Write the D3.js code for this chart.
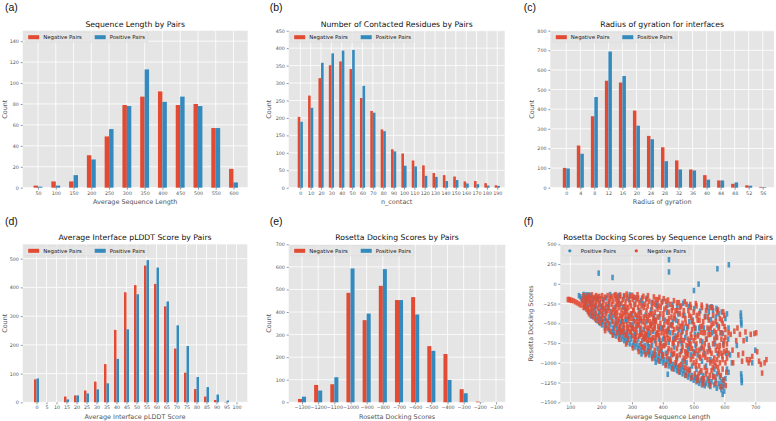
<!DOCTYPE html>
<html><head><meta charset="utf-8">
<script src="https://cdn.jsdelivr.net/npm/d3@7/dist/d3.min.js"></script>
<style>body{margin:0;background:#fff}svg{display:block}text{font-family:"DejaVu Sans",sans-serif}</style>
</head><body><svg id="c" width="776" height="421"></svg>
<script>
// ---------- DATA ----------
const seqLenCats = [50,100,150,200,250,300,350,400,450,500,550,600];
const seqLenNeg  = [2,6,6,31,49,79,87,92,79,80,57,18];
const seqLenPos  = [1,2,12,27,56,78,113,82,87,78,57,5];
const seqLenYTicks = [0,20,40,60,80,100,120,140];

const contactCats = [0,10,20,30,40,50,60,70,80,90,100,110,120,130,140,150,160,170,180,190];
const contactNeg  = [203,264,314,351,362,340,257,220,167,110,98,78,64,42,36,32,18,19,13,7];
const contactPos  = [189,229,358,385,393,395,292,215,162,104,63,61,34,31,19,22,12,10,6,5];
const contactYTicks = [0,50,100,150,200,250,300,350,400,450];

const rgCats = [0,4,8,12,16,20,24,28,32,36,40,44,48,52,56];
const rgNeg  = [101,215,364,545,536,393,264,206,139,93,64,37,20,12,4];
const rgPos  = [98,173,462,694,569,316,247,135,93,88,41,37,27,10,3];
const rgYTicks = [0,100,200,300,400,500,600,700,800];

const plddtCats = [0,5,10,15,20,25,30,35,40,45,50,55,60,65,70,75,80,85,90,95,100];
const plddtNeg  = [80,0,0,20,24,41,72,133,252,383,408,476,412,334,187,103,46,20,8,1,0];
const plddtPos  = [83,0,0,10,24,31,45,66,151,254,376,495,469,351,268,196,88,53,27,6,0];
const plddtYTicks = [0,100,200,300,400,500];

const dockCats = [-1300,-1200,-1100,-1000,-900,-800,-700,-600,-500,-400,-300,-200,-100];
const dockNeg  = [15,77,80,485,364,516,453,466,249,214,58,3,0];
const dockPos  = [25,52,111,593,393,590,453,389,228,99,40,1,0];
const dockYTicks = [0,100,200,300,400,500,600,700];

const scatXTicks = [100,200,300,400,500,600,700];
const scatYTicks = [-1500,-1250,-1000,-750,-500,-250,0,250,500];

// Positive pairs: [average sequence length, Rosetta docking score]
const scatPos = [
[128,-150],[133,-165],[137,-190],
[143,-135],[143,-210],[147,-160],[147,-300],[152,-140],[152,-270],[157,-200],[157,-330],[161,-260],[161,-360],[166,-150],[166,-400],[170,-230],[170,-350],[175,-420],[175,-180],[180,-320],[180,-390],[184,-460],[184,-280],[189,-410],[189,-170],[194,-360],[194,-490],[198,-440],[198,-300],[203,-520],[203,-380],[207,-480],[207,-200],[212,-440],[212,-560],[216,-530],[216,-180],[221,-480],[221,-290],[225,-580],[225,-420],[230,-520],[230,-350],[234,-610],[234,-470],[239,-560],[239,-640],
[243,-620],[243,-300],[248,-660],[248,-450],[252,-580],[252,-520],[257,-680],[257,-610],[261,-640],[261,-260],[266,-700],[266,-480],[270,-660],[270,-560],[275,-720],[275,-620],[279,-690],[279,-340],[284,-740],[284,-600],[288,-660],[288,-420],[293,-760],[293,-520],[297,-700],[297,-640],[302,-780],[302,-560],[306,-740],[306,-460],[311,-800],[311,-620],[315,-760],[315,-540],[320,-820],[320,-700],[324,-780],[324,-340],[329,-840],[329,-640],[333,-800],[333,-720],[338,-860],[338,-580],[342,-780],[342,-680],[347,-880],[347,-480],[351,-840],[351,-760],[356,-900],[356,-660],[360,-860],[360,-520],[365,-920],[365,-780],[369,-880],[369,-600],[374,-940],[374,-720],[378,-900],[378,-640],[383,-960],[383,-820],[387,-920],[387,-700],[392,-980],[392,-560],[396,-940],[396,-860],
[401,-1000],[401,-700],[405,-960],[405,-780],[410,-1020],[410,-880],[414,-980],[414,-360],[419,-1040],[419,-740],[423,-1000],[423,-620],[428,-1060],[428,-900],[432,-1020],[432,-480],[437,-1080],[437,-800],[441,-1040],[441,-660],[446,-1100],[446,-940],[450,-1060],[450,-380],[455,-1120],[455,-720],[459,-1080],[459,-860],[464,-1140],[464,-980],[468,-1100],[468,-560],[473,-1160],[473,-680],[477,-1120],[477,-1000],[482,-1180],[482,-840],[486,-1140],[486,-480],[491,-1200],[491,-900],[495,-1160],[495,-1040],[500,-1220],[500,-860],
[504,-1180],[504,-640],[509,-1240],[509,-1080],[513,-1200],[513,-900],[518,-1260],[518,-560],[522,-1220],[522,-1120],[527,-1280],[527,-980],[531,-1240],[531,-1160],[536,-1290],[536,-880],[540,-1260],[540,-1040],[545,-1200],[545,-300],[549,-1280],[549,-360],[554,-1300],[554,-960],[558,-1240],[558,-290],[563,-1160],[563,-340],[567,-1280],[567,-1080],[572,-1220],[572,-420],[576,-1140],[576,-520],[581,-1260],[581,-380],[585,-1180],[585,-1300],[590,-1340],[590,-1240],[594,-1400],[594,-1300],[599,-1360],[599,-1280],[603,-1200],[603,-440],[608,-1080],[608,-380],[613,-1120],[613,-560],
[150,-230],[155,-180],[160,-140],[168,-250],[176,-300],[186,-200],[196,-240],[205,-300],[215,-350],[225,-250],[235,-410],[245,-520],
[245,-380],[255,-220],[263,-500],[272,-300],[281,-450],[290,-200],[299,-380],[308,-260],[317,-430],[326,-580],[335,-250],[344,-400],[353,-600],[362,-330],[371,-480],[380,-280],[389,-420],[398,-560],[407,-460],[416,-600],[425,-520],[434,-700],[443,-460],[452,-580],[461,-760],[470,-400],[479,-560],[488,-720],[497,-460],[506,-780],[515,-640],[524,-820],[533,-560],[542,-700],[551,-820],[560,-620],[569,-760],[578,-880],[587,-620],[596,-760],[605,-880],[612,-700],
[229,-137],[256,-148],[274,-165],[293,-141],[311,-176],[329,-212],[347,-183],[364,-236],[382,-256],[399,-224],[415,-271],[431,-262],[447,-290],[466,-247],[484,-287],[502,-314],[521,-346],[538,-412],[556,-453],[574,-312],[591,-357],
[262,-586],[287,-703],[309,-648],[331,-888],[354,-796],[377,-993],[398,-889],[421,-953],[443,-1023],[466,-1051],[488,-1083],[509,-1193],[530,-1214],[551,-1237],[575,-1321],[596,-1217],
[279,-471],[303,-521],[327,-467],[349,-651],[372,-414],[394,-757],[417,-578],[438,-693],[461,-611],[483,-793],[506,-567],[528,-733],[550,-576],[572,-681],[595,-628],
[618,-900],[624,-1000],[640,-780],[653,-370],[653,-410],[654,-450],[654,-490],[655,-520],[654,-1140],[655,-1180],[656,-1220],[656,-1250],[672,-700],[690,-1000],[700,-840],
[192,135],[237,80],[420,305],[420,150],[501,-85],[516,-4],[577,190],[614,241],[416,-1145]
];

// Negative pairs
const scatNeg = [
[92,-200],[96,-198],[100,-205],[104,-210],[110,-215],[116,-228],[122,-240],[128,-255],[134,-270],[138,-215],
[143,-150],[143,-260],[143,-300],[147,-200],[147,-280],[152,-180],[152,-240],[152,-320],[157,-150],[157,-300],[157,-350],[161,-220],[161,-170],[161,-380],[166,-260],[166,-330],[166,-190],[170,-140],[170,-300],[170,-410],[175,-200],[175,-360],[175,-250],[180,-170],[180,-280],[180,-440],[184,-230],[184,-380],[184,-150],[189,-310],[189,-200],[189,-470],[194,-260],[194,-420],[194,-160],[198,-190],[198,-350],[198,-500],[203,-280],[203,-150],[203,-450],[207,-230],[207,-400],[207,-330],[212,-170],[212,-310],[212,-520],[216,-260],[216,-460],[216,-380],[221,-150],[221,-340],[221,-560],[225,-300],[225,-220],[225,-500],[230,-190],[230,-420],[230,-600],[234,-260],[234,-360],[234,-160],[239,-330],[239,-480],[239,-220],
[243,-150],[243,-400],[243,-560],[248,-280],[248,-200],[248,-500],[252,-360],[252,-620],[252,-170],[257,-230],[257,-450],[257,-300],[261,-160],[261,-540],[261,-400],[266,-330],[266,-250],[266,-600],[270,-200],[270,-480],[270,-380],[275,-290],[275,-560],[275,-150],[279,-410],[279,-230],[279,-650],[284,-180],[284,-350],[284,-520],[288,-300],[288,-460],[288,-700],[293,-240],[293,-600],[293,-160],[297,-380],[297,-520],[297,-280],[302,-200],[302,-440],[302,-660],[306,-330],[306,-580],[306,-170],[311,-260],[311,-480],[311,-720],[315,-400],[315,-620],[315,-200],[320,-300],[320,-520],[320,-180],[324,-240],[324,-660],[324,-440],[329,-360],[329,-560],[329,-760],[333,-180],[333,-480],[333,-620],[338,-420],[338,-300],[338,-700],[342,-260],[342,-540],[342,-820],[347,-340],[347,-640],[347,-200],[351,-460],[351,-720],[351,-280],[356,-220],[356,-560],[356,-400],[360,-380],[360,-620],[360,-800],[365,-300],[365,-500],[365,-700],[369,-440],[369,-680],[369,-240],[374,-360],[374,-560],[374,-840],[378,-200],[378,-480],[378,-760],[383,-420],[383,-640],[383,-320],[387,-280],[387,-580],[387,-880],[392,-500],[392,-720],[392,-380],[396,-240],[396,-620],[396,-800],
[401,-440],[401,-560],[401,-900],[405,-320],[405,-680],[405,-520],[410,-220],[410,-760],[410,-600],[414,-480],[414,-640],[414,-920],[419,-360],[419,-560],[419,-820],[423,-260],[423,-700],[423,-960],[428,-520],[428,-840],[428,-420],[432,-300],[432,-620],[432,-760],[437,-440],[437,-880],[437,-580],[441,-340],[441,-700],[441,-1000],[446,-240],[446,-560],[446,-820],[450,-480],[450,-760],[450,-640],[455,-380],[455,-900],[455,-540],[459,-280],[459,-660],[459,-1020],[464,-500],[464,-800],[464,-600],[468,-340],[468,-720],[468,-940],[473,-440],[473,-860],[473,-1060],[477,-260],[477,-620],[477,-780],[482,-540],[482,-900],[482,-700],[486,-400],[486,-760],[486,-1100],[491,-300],[491,-640],[491,-960],[495,-480],[495,-820],[495,-580],[500,-360],[500,-1000],[500,-720],
[504,-560],[504,-880],[504,-1140],[509,-280],[509,-760],[509,-980],[513,-460],[513,-660],[513,-1180],[518,-380],[518,-840],[518,-1040],[522,-540],[522,-940],[522,-720],[527,-300],[527,-800],[527,-1200],[531,-620],[531,-900],[531,-480],[536,-420],[536,-1060],[536,-760],[540,-340],[540,-700],[540,-1140],[545,-560],[545,-960],[545,-860],[549,-460],[549,-780],[549,-1220],[554,-300],[554,-640],[554,-1000],[558,-520],[558,-880],[558,-1100],[563,-400],[563,-760],[563,-1180],[567,-600],[567,-940],[567,-700],[572,-480],[572,-840],[572,-1040],[576,-360],[576,-680],[576,-960],[581,-560],[581,-900],[581,-1120],[585,-440],[585,-780],[585,-1000],[590,-620],[590,-880],[590,-700],[594,-500],[594,-960],[594,-1080],[599,-400],[599,-720],[599,-860],[603,-580],[603,-1000],[603,-680],[608,-760],[608,-940],[613,-620],[613,-880],
[246,-340],[255,-480],[264,-620],[273,-520],[282,-640],[291,-400],[300,-560],[309,-700],[318,-480],[327,-640],[336,-800],[345,-700],[354,-860],[363,-720],[372,-900],[381,-620],[390,-780],[399,-920],[408,-700],[417,-860],[426,-980],[435,-740],[444,-960],[453,-1040],[462,-840],[471,-980],[480,-1080],[489,-820],[498,-920],[507,-1040],[516,-1140],[525,-1100],[534,-1200],[543,-1100],[552,-1160],[561,-980],[570,-1180],[579,-1060],[588,-1160],[597,-1220],[606,-1120],
[366,-380],[375,-260],[384,-200],[393,-300],[402,-380],[411,-300],[420,-440],[429,-340],[438,-400],[447,-340],[456,-300],[465,-400],[474,-500],[483,-340],[492,-420],[501,-520],[510,-400],[519,-460],[528,-540],[537,-620],[546,-420],[555,-560],[564,-500],[573,-620],[582,-540],[591,-460],[600,-540],
[250,-420],[259,-560],[268,-440],[277,-360],[286,-580],[295,-440],[304,-340],[313,-560],[322,-380],[331,-280],[340,-480],[349,-560],[358,-480],[367,-580],[376,-460],[385,-540],
[247,-137],[262,-142],[283,-131],[301,-146],[318,-139],[337,-158],[352,-150],[371,-166],[389,-172],[403,-188],[417,-205],[436,-214],[452,-238],[471,-226],[489,-262],[507,-251],[526,-270],[543,-285],[561,-302],[579,-331],[596,-356],
[213,-593],[238,-651],[259,-703],[281,-762],[303,-812],[322,-858],[344,-897],[366,-946],[387,-977],[409,-1033],[431,-1075],[452,-1112],[474,-1157],[493,-1188],[512,-1226],[531,-1268],[553,-1282],[571,-1261],[589,-1305],[604,-1288],
[253,-257],[267,-412],[281,-297],[296,-613],[309,-387],[323,-517],[337,-668],[349,-413],[362,-532],[377,-686],[391,-843],[404,-616],[418,-487],[433,-893],[447,-678],[461,-536],[476,-921],[490,-763],[505,-681],[519,-919],[533,-827],[548,-643],[562,-1057],[577,-791],[593,-913],[607,-843],
[271,-603],[287,-553],[312,-673],[328,-434],[343,-627],[357,-713],[373,-523],[388,-657],[403,-783],[417,-693],[431,-533],[446,-913],[461,-716],[477,-873],[493,-677],[509,-843],[523,-613],[538,-929],[553,-847],[568,-1003],[583,-846],[597,-783],
[620,-640],[626,-840],[628,-1000],[632,-600],[638,-720],[642,-560],[645,-900],[650,-640],[657,-980],[660,-880],[662,-720],[668,-610],[673,-960],[678,-1000],[682,-960],[685,-640],[690,-920],[697,-630],[703,-620],[706,-860],[712,-980],[718,-1020],[722,-1130],[730,-1000],[736,-960]
];

// ---------- STYLE ----------
const RED = '#E24A33', BLUE = '#348ABD', BG = '#E5E5E5', TXT = '#555555';
const FT = 4.8, FLeg = 5.4, FL = 6.45, FTitle = 7.7;
const MINUS = s => String(s).replace('-', '\u2212');
const svg = d3.select('#c');

function frame(g, o) {
  g.append('rect').attr('x', o.left).attr('y', o.top)
    .attr('width', o.right - o.left).attr('height', o.bottom - o.top).attr('fill', BG);
}
function styleAxis(sel) {
  sel.select('.domain').remove();
  sel.selectAll('.tick line').attr('stroke', TXT).attr('stroke-width', 0.6);
  sel.selectAll('.tick text').attr('fill', TXT).style('font-size', FT + 'px')
    .style('font-family', '"DejaVu Sans",sans-serif');
}
function texts(g, o) {
  const cx = (o.left + o.right) / 2;
  g.append('text').attr('x', cx).attr('y', o.top - 4).attr('text-anchor', 'middle')
    .style('font-size', FTitle + 'px').attr('fill', '#111').text(o.title);
  g.append('text').attr('x', cx).attr('y', o.bottom + 16.2).attr('text-anchor', 'middle')
    .style('font-size', FL + 'px').attr('fill', TXT).text(o.xlabel);
  g.append('text').attr('transform', `translate(${o.ylx},${(o.top + o.bottom) / 2}) rotate(-90)`)
    .attr('text-anchor', 'middle').attr('dy', '0.35em')
    .style('font-size', FL + 'px').attr('fill', TXT).text(o.ylabel);
  g.append('text').attr('x', o.lx).attr('y', o.ly)
    .style('font-size', '10.5px').style('font-family', '"Liberation Sans",Arial,sans-serif')
    .attr('fill', '#111').text(o.letter);
}
function legend(g, o, items, marker) {
  const ly = o.top + 6.5;
  const bg = g.append('rect');
  let x = o.left + 5.5, endX = x;
  items.forEach((it) => {
    if (marker) {
      g.append('circle').attr('cx', x + 4).attr('cy', ly).attr('r', 1.6).attr('fill', it.c);
    } else {
      g.append('rect').attr('x', x).attr('y', ly - 2).attr('width', 11).attr('height', 4).attr('fill', it.c);
    }
    const t = g.append('text').attr('x', x + 15).attr('y', ly).attr('dy', '0.35em')
      .style('font-size', FLeg + 'px').attr('fill', '#222').text(it.t);
    endX = x + 15 + t.node().getComputedTextLength();
    x = x + 15 + 51.5;
  });
  bg.attr('x', o.left + 2.5).attr('y', ly - 5).attr('width', endX + 3 - (o.left + 2.5)).attr('height', 10)
    .attr('rx', 1.2).attr('fill', BG).attr('fill-opacity', 0.8).attr('stroke', '#d4d4d4').attr('stroke-width', 0.4);
}

function barPanel(o) {
  const g = svg.append('g');
  frame(g, o);
  const x = d3.scalePoint().domain(o.cats).range([o.t0, o.t1]);
  const step = x.step();
  const y = d3.scaleLinear().domain([0, o.yMax]).range([o.bottom, o.top]);
  g.append('g').selectAll('line').data(o.yTicks).join('line')
    .attr('x1', o.left).attr('x2', o.right).attr('y1', d => y(d)).attr('y2', d => y(d))
    .attr('stroke', '#fff').attr('stroke-width', 0.8);
  g.append('g').selectAll('line').data(o.cats).join('line')
    .attr('y1', o.top).attr('y2', o.bottom).attr('x1', d => x(d)).attr('x2', d => x(d))
    .attr('stroke', '#fff').attr('stroke-width', 0.8);
  const w = step * 0.25;
  g.append('g').selectAll('rect').data(o.cats).join('rect')
    .attr('x', d => x(d) - w).attr('width', w)
    .attr('y', (d, i) => y(o.neg[i])).attr('height', (d, i) => y(0) - y(o.neg[i]))
    .attr('fill', RED);
  g.append('g').selectAll('rect').data(o.cats).join('rect')
    .attr('x', d => x(d)).attr('width', w)
    .attr('y', (d, i) => y(o.pos[i])).attr('height', (d, i) => y(0) - y(o.pos[i]))
    .attr('fill', BLUE);
  const ya = g.append('g').attr('transform', `translate(${o.left},0)`)
    .call(d3.axisLeft(y).tickValues(o.yTicks).tickSize(2).tickPadding(1.8).tickFormat(d3.format('d')));
  styleAxis(ya);
  const xa = g.append('g').attr('transform', `translate(0,${o.bottom})`)
    .call(d3.axisBottom(x).tickSize(2).tickPadding(1.6).tickFormat(MINUS));
  styleAxis(xa);
  legend(g, o, [{c: RED, t: 'Negative Pairs'}, {c: BLUE, t: 'Positive Pairs'}], false);
  texts(g, o);
}

const TOP1 = 30.7, BOT1 = 187.7, TOP2 = 244.3, BOT2 = 402.3;

barPanel({cats: seqLenCats, neg: seqLenNeg, pos: seqLenPos, yTicks: seqLenYTicks, yMax: 150,
  left: 22.7, right: 247.7, top: TOP1, bottom: BOT1, t0: 38, t1: 233.5,
  title: 'Sequence Length by Pairs', xlabel: 'Average Sequence Length', ylabel: 'Count',
  ylx: 4.5, letter: '(a)', lx: 5, ly: 10.5});
barPanel({cats: contactCats, neg: contactNeg, pos: contactPos, yTicks: contactYTicks, yMax: 450,
  left: 288.7, right: 504.7, top: TOP1, bottom: BOT1, t0: 300.3, t1: 497.3,
  title: 'Number of Contacted Residues by Pairs', xlabel: 'n_contact', ylabel: 'Count',
  ylx: 268.5, letter: '(b)', lx: 269.7, ly: 10.5});
barPanel({cats: rgCats, neg: rgNeg, pos: rgPos, yTicks: rgYTicks, yMax: 800,
  left: 550.3, right: 774, top: TOP1, bottom: BOT1, t0: 566.3, t1: 762.7,
  title: 'Radius of gyration for interfaces', xlabel: 'Radius of gyration', ylabel: 'Count',
  ylx: 532, letter: '(c)', lx: 523.7, ly: 10.5});
barPanel({cats: plddtCats, neg: plddtNeg, pos: plddtPos, yTicks: plddtYTicks, yMax: 550,
  left: 22.7, right: 247.3, top: TOP2, bottom: BOT2, t0: 36.5, t1: 236.5,
  title: 'Average Interface pLDDT Score by Pairs', xlabel: 'Average Interface pLDDT Score', ylabel: 'Count',
  ylx: 4.5, letter: '(d)', lx: 5, ly: 224.5});
barPanel({cats: dockCats, neg: dockNeg, pos: dockPos, yTicks: dockYTicks, yMax: 700,
  left: 288.7, right: 505.3, top: TOP2, bottom: BOT2, t0: 302, t1: 496,
  title: 'Rosetta Docking Scores by Pairs', xlabel: 'Rosetta Docking Scores', ylabel: 'Count',
  ylx: 268.5, letter: '(e)', lx: 269.7, ly: 224.5});

(function () {
  const o = {left: 560.3, right: 776, top: TOP2, bottom: BOT2,
    title: 'Rosetta Docking Scores by Sequence Length and Pairs', xlabel: 'Average Sequence Length',
    ylabel: 'Rosetta Docking Scores', ylx: 531, letter: '(f)', lx: 523.7, ly: 224.5};
  const g = svg.append('g');
  frame(g, o);
  const x = d3.scaleLinear().domain([67.6, 767]).range([o.left, o.right]);
  const y = d3.scaleLinear().domain([-1500, 500]).range([o.bottom, o.top]);
  g.append('g').selectAll('line').data(scatYTicks).join('line')
    .attr('x1', o.left).attr('x2', o.right).attr('y1', d => y(d)).attr('y2', d => y(d))
    .attr('stroke', '#fff').attr('stroke-width', 0.8);
  g.append('g').selectAll('line').data(scatXTicks).join('line')
    .attr('y1', o.top).attr('y2', o.bottom).attr('x1', d => x(d)).attr('x2', d => x(d))
    .attr('stroke', '#fff').attr('stroke-width', 0.8);
  const pts = (data, c) => g.append('g').selectAll('rect').data(data).join('rect')
    .attr('x', d => x(d[0]) - 1.3).attr('y', d => y(d[1]) - 2.75)
    .attr('width', 2.6).attr('height', 5.5).attr('fill', c).attr('fill-opacity', 0.85);
  pts(scatPos, BLUE);
  pts(scatNeg, RED);
  const ya = g.append('g').attr('transform', `translate(${o.left},0)`)
    .call(d3.axisLeft(y).tickValues(scatYTicks).tickSize(2).tickPadding(1.8).tickFormat(MINUS));
  styleAxis(ya);
  const xa = g.append('g').attr('transform', `translate(0,${o.bottom})`)
    .call(d3.axisBottom(x).tickValues(scatXTicks).tickSize(2).tickPadding(1.6));
  styleAxis(xa);
  legend(g, o, [{c: BLUE, t: 'Positive Pairs'}, {c: RED, t: 'Negative Pairs'}], true);
  texts(g, o);
})();
</script></body></html>
